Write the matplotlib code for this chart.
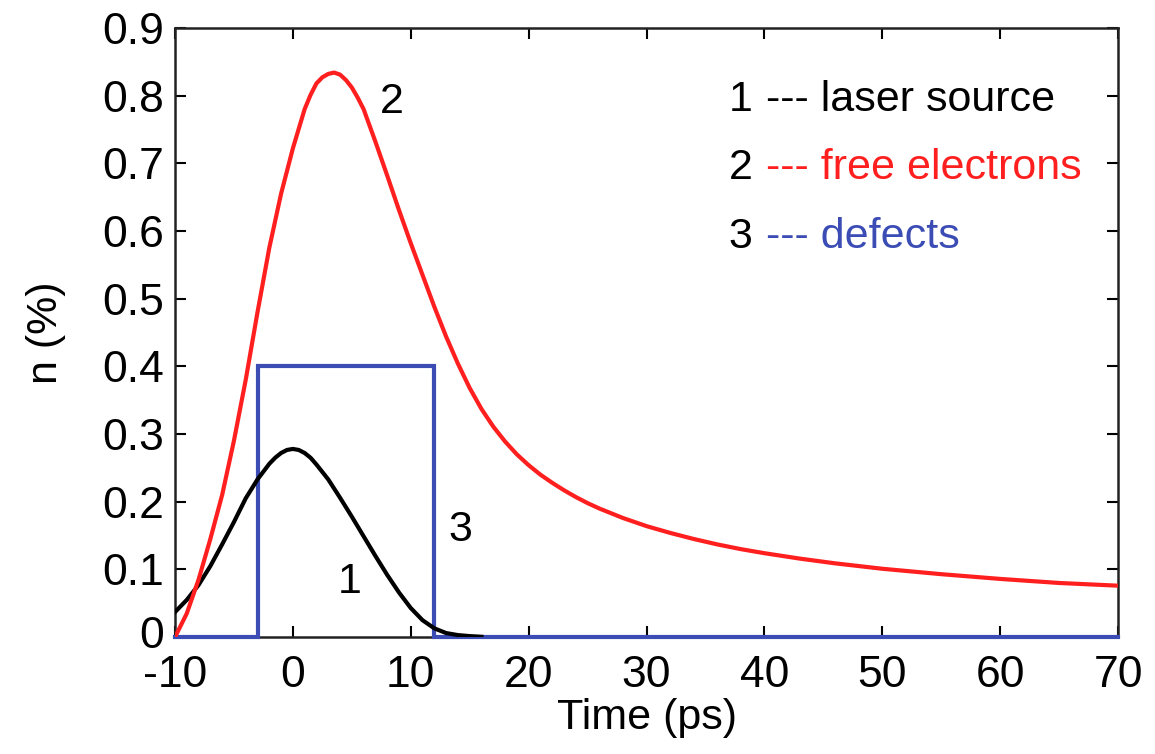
import numpy as np
import matplotlib
matplotlib.use('Agg')
import matplotlib.pyplot as plt
import matplotlib.transforms as mtransforms

plt.rcParams['font.family'] = ['Liberation Sans', 'DejaVu Sans']
plt.rcParams['axes.unicode_minus'] = False

# curve 1: laser source
t_laser = [-10, -9, -8, -7, -6, -5, -4, -3, -2, -1.5, -1, -0.5, 0, 0.5, 1, 1.5, 2, 3, 4, 5, 6, 7, 8, 9, 10,
           11, 12, 13, 14, 15, 16]
n_laser = [0.037, 0.055, 0.077, 0.105, 0.137, 0.17, 0.205, 0.233, 0.256, 0.265, 0.272, 0.2765, 0.278, 0.2765, 0.272,
           0.265, 0.255, 0.233, 0.206, 0.178, 0.149, 0.120, 0.092, 0.066, 0.043, 0.025, 0.013, 0.006, 0.003,
           0.0015, 0.0005]

# curve 2: free electrons
t_free = [-10, -9, -8, -7, -6, -5, -4, -3, -2, -1, 0, 1, 1.5, 2, 2.5, 3, 3.5, 4, 4.5, 5, 5.5, 6, 7, 8, 9, 10,
          11, 12, 13, 14, 15, 16, 17, 18, 19, 20, 21, 22, 23, 24, 25, 26, 28, 30, 32, 34, 36, 38, 40, 43, 46,
          50, 55, 60, 65, 70]
n_free = [0.0, 0.035, 0.085, 0.145, 0.21, 0.29, 0.38, 0.48, 0.575, 0.655, 0.722, 0.78, 0.801, 0.818, 0.827,
          0.832, 0.834, 0.831, 0.823, 0.812, 0.797, 0.78, 0.732, 0.682, 0.631, 0.582, 0.535, 0.488, 0.444,
          0.404, 0.368, 0.337, 0.311, 0.289, 0.270, 0.254, 0.240, 0.228, 0.217, 0.207, 0.198, 0.190, 0.176,
          0.164, 0.154, 0.145, 0.137, 0.130, 0.124, 0.116, 0.109, 0.101, 0.093, 0.086, 0.080, 0.076]

# curve 3: defects (rectangular)
t_def = [-10, -3, -3, 12, 12, 70]
n_def = [0, 0, 0.4, 0.4, 0, 0]

red = '#ff1f1f'
blue = '#3b4db5'
fs = 31
tfs = 32

fig = plt.figure(figsize=(11.55, 7.54), dpi=100)
ax = fig.add_axes([0.1515, 0.155, 0.8165, 0.808])

ax.plot(t_def, n_def, color=blue, lw=3, solid_joinstyle='miter', clip_on=False, zorder=3)
ax.plot(t_laser, n_laser, color='black', lw=3, zorder=4)
ax.plot(t_free, n_free, color=red, lw=3, zorder=5)

ax.set_xlim(-10, 70)
ax.set_ylim(0, 0.9)
ax.set_xticks(np.arange(-10, 71, 10))
ax.set_yticks(np.arange(0, 0.91, 0.1))
ax.set_yticklabels(['0', '0.1', '0.2', '0.3', '0.4', '0.5', '0.6', '0.7', '0.8', '0.9'])
ax.tick_params(direction='in', length=8, width=1.5, top=True, right=True, labelsize=tfs)
ax.tick_params(axis='x', pad=13)
ax.tick_params(axis='y', pad=8)
for sp in ax.spines.values():
    sp.set_linewidth(1.8)
    sp.set_color('#222222')

# nudge the bottom "0" up a bit so it does not run into "-10"
lab0 = ax.get_yticklabels()[0]
lab0.set_transform(lab0.get_transform() + mtransforms.ScaledTranslation(0, 4 / 72, fig.dpi_scale_trans))

ax.set_xlabel('Time (ps)', fontsize=fs, labelpad=1)
ax.set_ylabel('n (%)', fontsize=fs, labelpad=26)

# curve numbers
ax.text(8.4, 0.79, '2', fontsize=fs, ha='center', va='center')
ax.text(4.8, 0.082, '1', fontsize=fs, ha='center', va='center')
ax.text(14.2, 0.158, '3', fontsize=fs, ha='center', va='center')

# legend-like text
labels = ['laser source', 'free electrons', 'defects']
colors = ['black', red, blue]
ypos = [0.7935, 0.693, 0.591]
for i in range(3):
    ax.text(39.0, ypos[i], str(i + 1), fontsize=fs, ha='right', va='center')
    ax.text(40.1, ypos[i], '--- ' + labels[i], fontsize=fs, ha='left', va='center', color=colors[i])

fig.savefig('out.png', dpi=100)
